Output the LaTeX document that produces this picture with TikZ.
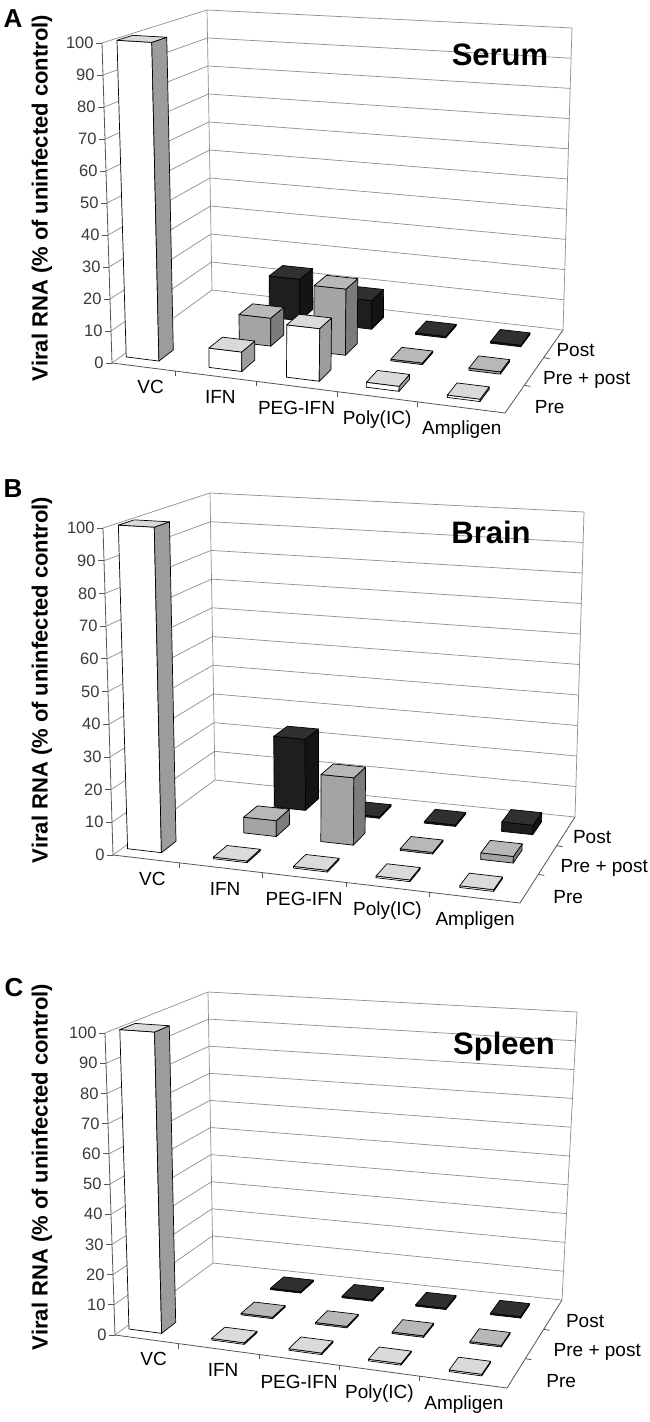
\documentclass[tikz,border=0pt]{standalone}
\usepackage{fontspec}
\setmainfont{Liberation Sans}
\definecolor{gridgray}{HTML}{8E8E8E}
\definecolor{axisgray}{HTML}{555555}
\definecolor{ticktext}{HTML}{3A3A3A}
\definecolor{preF}{HTML}{FFFFFF}
\definecolor{preS}{HTML}{9C9C9C}
\definecolor{preT}{HTML}{DADADA}
\definecolor{ppF}{HTML}{A4A4A4}
\definecolor{ppS}{HTML}{7C7C7C}
\definecolor{ppT}{HTML}{B8B8B8}
\definecolor{poF}{HTML}{1E1E1E}
\definecolor{poS}{HTML}{141414}
\definecolor{poT}{HTML}{303030}
\tikzset{
  wallgrid/.style={draw=gridgray, line width=0.7pt},
  axisline/.style={draw=axisgray, line width=0.8pt},
  barline/.style={draw=black, line width=0.7pt, line join=round},
  ticklab/.style={font=\fontsize{16.5}{18}\selectfont, text=ticktext, anchor=east, inner sep=0pt},
  catlab/.style={font=\fontsize{19}{21}\selectfont, inner sep=0pt},
  serlab/.style={font=\fontsize{19}{21}\selectfont, anchor=west, inner sep=0pt},
  ytitle/.style={font=\bfseries\fontsize{22}{24}\selectfont, rotate=90, inner sep=0pt},
  ptitle/.style={font=\bfseries\fontsize{31}{33}\selectfont, inner sep=0pt},
  plabel/.style={font=\bfseries\fontsize{26}{28}\selectfont, inner sep=0pt},
}
% point on the pseudo-3D chart: name, u (categories), v (depth), h (value)
\newcommand\mkpt[4]{%
  \pgfmathsetmacro\qa{(1-(#2))*(1-(#3))}%
  \pgfmathsetmacro\qb{(#2)*(1-(#3))}%
  \pgfmathsetmacro\qc{(1-(#2))*(#3)}%
  \pgfmathsetmacro\qd{(#2)*(#3)}%
  \pgfmathsetmacro\qx{\qa*\FAx+\qb*\FBx+\qc*\BAx+\qd*\BBx+(#4)*(\qa*(-0.10)+\qb*0.16+\qc*(-0.05)+\qd*\lBB)}%
  \pgfmathsetmacro\qy{\qa*\FAy+\qb*\FBy+\qc*\BAy+\qd*\BBy-(#4)*(\qa*\sFA+\qb*\sFB+\qc*\sBA+\qd*\sBB)}%
  \coordinate (#1) at (\qx,\qy);%
}
\newcommand\mybar[6]{%
  \mkpt{b1}{#1-0.042}{#2-0.075}{0}%
  \mkpt{b2}{#1+0.042}{#2-0.075}{0}%
  \mkpt{b3}{#1+0.042}{#2+0.075}{0}%
  \mkpt{t1}{#1-0.042}{#2-0.075}{#3}%
  \mkpt{t2}{#1+0.042}{#2-0.075}{#3}%
  \mkpt{t3}{#1+0.042}{#2+0.075}{#3}%
  \mkpt{t4}{#1-0.042}{#2+0.075}{#3}%
  \filldraw[barline, fill=#4] (b1)--(b2)--(t2)--(t1)--cycle;
  \filldraw[barline, fill=#5] (b2)--(b3)--(t3)--(t2)--cycle;
  \filldraw[barline, fill=#6] (t1)--(t2)--(t3)--(t4)--cycle;
}
\newcommand\preBar[2]{\mybar{#1}{0.1667}{#2}{preF}{preS}{preT}}
\newcommand\ppBar[2]{\mybar{#1}{0.5}{#2}{ppF}{ppS}{ppT}}
\newcommand\postBar[2]{\mybar{#1}{0.8333}{#2}{poF}{poS}{poT}}
\newcommand\drawframe[1]{%
  \mkpt{#1fl0}{0}{0}{0}\mkpt{#1fr0}{1}{0}{0}\mkpt{#1bl0}{0}{1}{0}\mkpt{#1br0}{1}{1}{0}%
  \mkpt{#1fl1}{0}{0}{100}\mkpt{#1bl1}{0}{1}{100}\mkpt{#1br1}{1}{1}{100}%
  \foreach \k in {0,10,...,100}{%
    \mkpt{#1ga\k}{0}{0}{\k}\mkpt{#1gb\k}{0}{1}{\k}\mkpt{#1gc\k}{1}{1}{\k}%
    \draw[wallgrid] (#1ga\k)--(#1gb\k)--(#1gc\k);
    \draw[axisline] (#1ga\k) -- ++(-6,0) node[ticklab, xshift=-2pt] (#1tick\k) {\k};
  }
  \draw[wallgrid] (#1bl0)--(#1bl1);
  \draw[wallgrid] (#1br0)--(#1br1);
  \draw[axisline] (#1fl0)--(#1fl1);
  \draw[axisline] (#1fl0)--(#1fr0)--(#1br0);
  \foreach \c [count=\i] in {0.1625,0.3675,0.5725,0.7775}{%
    \mkpt{#1ct\i}{\c}{0}{0}%
    \draw[axisline] (#1ct\i) -- ++(0,5);
  }
  \foreach \c [count=\i] in {0.3333,0.6667}{%
    \mkpt{#1st\i}{1}{\c}{0}%
    \draw[axisline] (#1st\i) -- ++(6,1);
  }
  \mkpt{#1cA}{0.055}{0}{0}\node[catlab] (#1labVC) at ([shift={(17,21)}]#1cA) {VC};
  \mkpt{#1cB}{0.268}{0}{0}\node[catlab] (#1labIFN) at ([shift={(3,21)}]#1cB) {IFN};
  \mkpt{#1cC}{0.467}{0}{0}\node[catlab] (#1labPEG) at ([shift={(1,22)}]#1cC) {PEG-IFN};
  \mkpt{#1cD}{0.672}{0}{0}\node[catlab] (#1labPoly) at ([shift={(1,23)}]#1cD) {Poly(IC)};
  \mkpt{#1cE}{0.88}{0}{0}\node[catlab] (#1labAmp) at ([shift={(4,23)}]#1cE) {Ampligen};
  \mkpt{#1sA}{1}{0.8333}{0}\node[serlab] (#1labPost) at ([shift={(3+\serdx,6)}]#1sA) {Post};
  \mkpt{#1sB}{1}{0.5}{0}\node[serlab] (#1labPP) at ([shift={(9+\serdx,8)}]#1sB) {Pre + post};
  \mkpt{#1sC}{1}{0.1667}{0}\node[serlab] (#1labPre) at ([shift={(20+\serdx,8)}]#1sC) {Pre};
}
\begin{document}
\begin{tikzpicture}[x=1pt,y=-1pt]
\useasboundingbox (0,0) rectangle (650,1422);
\fill[white] (0,0) rectangle (650,1422);

% ---------------- Panel A : Serum
\def\FAx{112}\def\FAy{363}\def\FBx{505}\def\FBy{413}
\def\BAx{212}\def\BAy{290}\def\BBx{563}\def\BBy{330}
\def\sFA{3.20}\def\sFB{3.45}\def\sBA{2.80}\def\sBB{3.02}\def\lBB{0.09}\def\serdx{0}
\drawframe{A}
\postBar{0.268}{14}\postBar{0.467}{9.5}\postBar{0.672}{0.5}\postBar{0.88}{0.5}
\ppBar{0.268}{9}\ppBar{0.467}{21}\ppBar{0.672}{0.5}\ppBar{0.88}{0.7}
\preBar{0.055}{100}\preBar{0.268}{6}\preBar{0.467}{16}\preBar{0.672}{1.5}\preBar{0.88}{0.7}
\node[ptitle] (titleA) at (500,55) {Serum};
\node[plabel] (letA) at (13,19) {A};
\node[ytitle] (yA) at (42,198) {Viral RNA (\% of uninfected control)};

% ---------------- Panel B : Brain
\def\FAx{113}\def\FAy{855}\def\FBx{520}\def\FBy{903}
\def\BAx{215}\def\BAy{780}\def\BBx{575}\def\BBy{817}
\def\sFA{3.27}\def\sFB{3.50}\def\sBA{2.87}\def\sBB{3.05}\def\lBB{0.09}\def\serdx{4}
\drawframe{B}
\postBar{0.268}{23.5}\postBar{0.467}{0.5}\postBar{0.672}{0.5}\postBar{0.88}{3}
\ppBar{0.268}{5}\ppBar{0.467}{21}\ppBar{0.672}{0.5}\ppBar{0.88}{2}
\preBar{0.055}{100}\preBar{0.268}{0.5}\preBar{0.467}{0.5}\preBar{0.672}{0.5}\preBar{0.88}{0.5}
\node[ptitle] (titleB) at (491,532) {Brain};
\node[plabel] (letB) at (13,489) {B};
\node[ytitle] (yB) at (42,680) {Viral RNA (\% of uninfected control)};

% ---------------- Panel C : Spleen
\def\FAx{115}\def\FAy{1335}\def\FBx{507}\def\FBy{1388}
\def\BAx{213}\def\BAy{1263}\def\BBx{562}\def\BBy{1300}
\def\sFA{3.02}\def\sFB{3.25}\def\sBA{2.71}\def\sBB{2.88}\def\lBB{0.15}\def\serdx{10}
\drawframe{C}
\postBar{0.268}{0.5}\postBar{0.467}{0.5}\postBar{0.672}{0.5}\postBar{0.88}{0.5}
\ppBar{0.268}{0.5}\ppBar{0.467}{0.5}\ppBar{0.672}{0.5}\ppBar{0.88}{0.5}
\preBar{0.055}{100}\preBar{0.268}{0.5}\preBar{0.467}{0.5}\preBar{0.672}{0.5}\preBar{0.88}{0.5}
\node[ptitle] (titleC) at (504,1046) {Spleen};
\node[plabel] (letC) at (14,988) {C};
\node[ytitle] (yC) at (42,1167) {Viral RNA (\% of uninfected control)};
\end{tikzpicture}
\end{document}
